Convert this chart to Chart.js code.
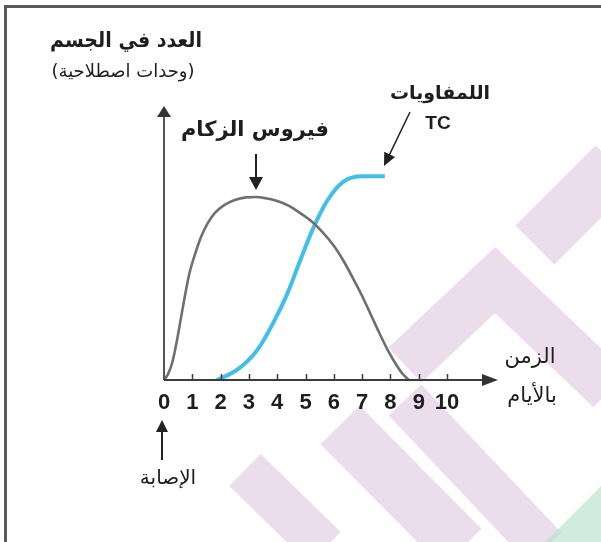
<!DOCTYPE html>
<html lang="ar">
<head>
<meta charset="utf-8">
<script src="https://cdn.jsdelivr.net/npm/chart.js@4/dist/chart.umd.min.js"></script>
<style>
  html, body { margin: 0; padding: 0; background: #fff; }
  canvas { display: block; }
</style>
</head>
<body>
<canvas id="chart" width="601" height="542"></canvas>
<script>

// days since infection -> count in the body (arbitrary units)
const virusDays  = [0, 0.15, 0.3, 0.45, 0.6, 0.75, 0.9, 1.1, 1.3, 1.55, 1.8, 2.1, 2.5, 2.9, 3.25, 3.6, 4.0, 4.4, 4.8, 5.2, 5.6, 6.0, 6.35, 6.7, 7.0, 7.3, 7.6, 7.9, 8.2, 8.45, 8.65];
const virusCount = [0, 0.35, 1.0, 2.1, 3.4, 4.7, 5.85, 6.9, 7.8, 8.6, 9.15, 9.55, 9.85, 10, 10.02, 9.95, 9.8, 9.55, 9.15, 8.7, 8.1, 7.35, 6.5, 5.5, 4.6, 3.6, 2.6, 1.65, 0.85, 0.3, 0];

const lymphDays  = [1.87, 2.58, 3.3, 3.85, 4.35, 4.8, 5.27, 5.76, 6.33, 7.03, 7.8];
const lymphCount = [0, 0.55, 1.65, 3.1, 4.7, 6.5, 8.3, 9.8, 10.85, 11.15, 11.15];

const xTicks      = [0, 1, 2, 3, 4, 5, 6, 7, 8, 9, 10];
const xTickLabels = ['0', '1', '2', '3', '4', '5', '6', '7', '8', '9', '10'];

const arabicFont = '"DejaVu Sans", sans-serif';
const latinFont = '"Liberation Sans", Arial, sans-serif';

// filled arrow head with its tip at (x, y)
function arrowHead(ctx, x, y, angle, len, half) {
    ctx.save();
    ctx.translate(x, y);
    ctx.rotate(angle);
    ctx.beginPath();
    ctx.moveTo(0, 0);
    ctx.lineTo(-len, -half);
    ctx.lineTo(-len, half);
    ctx.closePath();
    ctx.fill();
    ctx.restore();
}

function arrow(ctx, x1, y1, x2, y2, width, len, half) {
    const a = Math.atan2(y2 - y1, x2 - x1);
    ctx.lineWidth = width;
    ctx.beginPath();
    ctx.moveTo(x1, y1);
    ctx.lineTo(x2 - Math.cos(a) * (len - 2), y2 - Math.sin(a) * (len - 2));
    ctx.stroke();
    arrowHead(ctx, x2, y2, a, len, half);
}

function label(ctx, text, x, y, font, maxW, rtl) {
    ctx.font = font;
    ctx.direction = rtl ? 'rtl' : 'ltr';
    ctx.textAlign = 'center';
    ctx.textBaseline = 'middle';
    if (maxW) ctx.fillText(text, x, y, maxW);
    else ctx.fillText(text, x, y);
}

// background watermark, frame, axes with arrows and the annotations
const decorPlugin = {
    id: 'decor',
    beforeDraw(chart) {
        const ctx = chart.ctx;
        ctx.save();
        ctx.fillStyle = '#fff';
        ctx.fillRect(0, 0, chart.width, chart.height);

        ctx.strokeStyle = 'rgba(200, 160, 200, 0.36)';
        ctx.lineCap = 'butt';
        const bands = [
            { w: 48, pts: [[405, 365], [495, 280], [610, 390]] },
            { w: 55, pts: [[535, 245], [615, 165]] },
            { w: 45, pts: [[405, 400], [545, 548]] },
            { w: 55, pts: [[340, 425], [462, 548]] },
            { w: 45, pts: [[245, 470], [325, 548]] }
        ];
        bands.forEach(b => {
            ctx.lineWidth = b.w;
            ctx.beginPath();
            b.pts.forEach((p, i) => i ? ctx.lineTo(p[0], p[1]) : ctx.moveTo(p[0], p[1]));
            ctx.stroke();
        });
        ctx.fillStyle = 'rgba(185, 225, 205, 0.65)';
        ctx.beginPath();
        ctx.moveTo(545, 542);
        ctx.lineTo(601, 486);
        ctx.lineTo(601, 542);
        ctx.closePath();
        ctx.fill();

        // frame
        ctx.strokeStyle = '#5a5a5a';
        ctx.lineWidth = 3;
        ctx.beginPath();
        ctx.moveTo(5.5, 542);
        ctx.lineTo(5.5, 6.5);
        ctx.lineTo(601, 6.5);
        ctx.stroke();
        ctx.restore();
    },
    afterDraw(chart) {
        const ctx = chart.ctx;
        const x = chart.scales.x;
        const area = chart.chartArea;
        const x0 = x.getPixelForValue(0);
        const y0 = area.bottom;
        ctx.save();
        ctx.strokeStyle = '#555';
        ctx.fillStyle = '#333';

        // axes
        arrow(ctx, x0, y0, x0, area.top, 2, 11, 7);
        ctx.strokeStyle = '#3c3c3c';
        arrow(ctx, x0, y0, area.right, y0, 2, 16, 6);

        // tick marks stand above the axis
        ctx.lineWidth = 1.5;
        xTicks.slice(1).forEach(v => {
            const px = Math.round(x.getPixelForValue(v)) + 0.5;
            ctx.beginPath();
            ctx.moveTo(px, y0 - 6);
            ctx.lineTo(px, y0);
            ctx.stroke();
        });

        // pointers
        ctx.strokeStyle = '#222';
        ctx.fillStyle = '#222';
        arrow(ctx, 256, 154, 256, 190, 2, 13, 7);
        arrow(ctx, 410, 112, 384, 166, 1.5, 13, 6);
        arrow(ctx, x0 - 2, 460, x0 - 2, 420, 2, 12, 6);

        // texts
        ctx.fillStyle = '#1e1e1e';
        label(ctx, 'العدد في الجسم', 126, 42, 'bold 21px ' + arabicFont, 152, true);
        label(ctx, '(وحدات اصطلاحية)', 123, 72, '18px ' + arabicFont, 158, true);
        label(ctx, 'فيروس الزكام', 255, 131, 'bold 21px ' + arabicFont, 148, true);
        label(ctx, 'اللمفاويات', 440, 94, 'bold 19px ' + arabicFont, 106, true);
        label(ctx, 'TC', 438, 124, 'bold 19px ' + latinFont, null, false);
        label(ctx, 'الزمن', 530, 358, '21px ' + arabicFont, 60, true);
        label(ctx, 'بالأيام', 532, 397, '21px ' + arabicFont, 64, true);
        label(ctx, 'الإصابة', 168, 479, '20px ' + arabicFont, 84, true);
        ctx.restore();
    }
};

new Chart(document.getElementById('chart'), {
    type: 'line',
    data: {
        datasets: [{
            label: 'فيروس الزكام',
            data: virusDays.map((d, i) => ({ x: d, y: virusCount[i] })),
            borderColor: '#6f6f6f',
            borderWidth: 2.6,
            pointRadius: 0,
            cubicInterpolationMode: 'monotone',
            fill: false
        }, {
            label: 'اللمفاويات TC',
            data: lymphDays.map((d, i) => ({ x: d, y: lymphCount[i] })),
            borderColor: '#3fbfea',
            borderWidth: 4,
            pointRadius: 0,
            cubicInterpolationMode: 'monotone',
            fill: false
        }]
    },
    options: {
        responsive: false,
        animation: false,
        events: [],
        layout: { padding: { left: 164, right: 103, top: 106, bottom: 122 } },
        plugins: {
            legend: { display: false },
            tooltip: { enabled: false }
        },
        scales: {
            x: {
                type: 'linear',
                min: 0,
                max: 11.8,
                afterBuildTicks: s => { s.ticks = xTicks.map(v => ({ value: v })); },
                afterFit: s => { s.height = 40; },
                grid: { display: false },
                border: { display: false },
                ticks: {
                    padding: 2,
                    autoSkip: false,
                    maxRotation: 0,
                    color: '#1e1e1e',
                    font: { family: latinFont, size: 22, weight: 'bold' },
                    callback: (v, i) => xTickLabels[i]
                }
            },
            y: {
                display: false,
                min: 0,
                max: 15
            }
        }
    },
    plugins: [decorPlugin]
});
</script>
</body>
</html>
